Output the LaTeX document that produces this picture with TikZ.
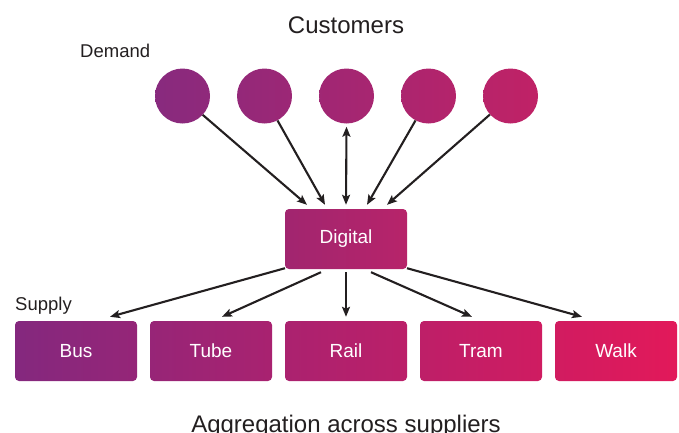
\documentclass[tikz,border=0pt]{standalone}
\usepackage{fontspec}
\setmainfont{Liberation Sans}
\usetikzlibrary{arrows.meta,calc}
\definecolor{txt}{HTML}{231F20}
\definecolor{bA}{HTML}{84287E}
\definecolor{bB}{HTML}{E2195A}
\definecolor{cA}{HTML}{882A7E}
\definecolor{cB}{HTML}{C02266}
\definecolor{dA}{HTML}{A1256F}
\definecolor{dB}{HTML}{B7246A}
\tikzset{
  box/.style={rectangle,rounded corners=4pt,minimum width=122pt,minimum height=60pt,inner sep=0pt,text=white,font=\fontsize{19}{19}\selectfont},
  dot/.style={circle,minimum size=55pt,inner sep=0pt},
  arr/.style={draw=txt,line width=2.1pt,-{Stealth[length=10pt,width=8pt,inset=2pt]}},
  darr/.style={draw=txt,line width=2.1pt,{Stealth[length=10pt,width=8pt,inset=2pt]}-{Stealth[length=10pt,width=8pt,inset=2pt]}},
  title/.style={text=txt,anchor=base,inner sep=0pt,font=\fontsize{24}{24}\selectfont},
  lab/.style={text=txt,anchor=base west,inner sep=0pt,font=\fontsize{18.5}{18.5}\selectfont}
}
\begin{document}
\begin{tikzpicture}[x=1pt,y=-1pt]
\useasboundingbox (0,0) rectangle (679,432);
% texts
\node[title] (cust) at (346,33) {Customers};
\node[title] (agg) at (346,432.5) {Aggregation across suppliers};
\node[lab] (dem) at (80,57) {Demand};
\node[lab] (sup) at (15,310) {Supply};
% circles
\node[dot,left color=cA,right color={cB!14!cA}] (c1) at (182.5,96) {};
\node[dot,left color={cB!21!cA},right color={cB!36!cA}] (c2) at (264.5,96) {};
\node[dot,left color={cB!43!cA},right color={cB!57!cA}] (c3) at (346.5,96) {};
\node[dot,left color={cB!64!cA},right color={cB!79!cA}] (c4) at (428.5,96) {};
\node[dot,left color={cB!86!cA},right color=cB] (c5) at (510.5,96) {};
% digital
\node[box,left color=dA,right color=dB] (dig) at (346,239) {Digital};
% supply boxes
\node[box,left color=bA,right color={bB!18!bA}] (bus) at (76,351) {Bus};
\node[box,left color={bB!20!bA},right color={bB!39!bA}] (tube) at (211,351) {Tube};
\node[box,left color={bB!41!bA},right color={bB!59!bA}] (rail) at (346,351) {Rail};
\node[box,left color={bB!61!bA},right color={bB!80!bA}] (tram) at (481,351) {Tram};
\node[box,left color={bB!82!bA},right color=bB] (walk) at (616,351) {Walk};
% demand arrows
\draw[arr] (c1.-43) -- ($(dig.north)+(-39,-4)$);
\draw[arr] (c2.-62) -- ($(dig.north)+(-21,-4)$);
\draw[darr] ($(c3.south)+(0,3)$) -- ($(dig.north)+(0,-4)$);
\draw[arr] (c4.-118) -- ($(dig.north)+(21,-4)$);
\draw[arr] (c5.-138) -- ($(dig.north)+(41,-4)$);
% supply arrows
\draw[arr] ($(dig.south)+(-61,-1)$) -- ($(bus.north)+(34,-4)$);
\draw[arr] ($(dig.south)+(-25,3)$) -- ($(tube.north)+(11,-4)$);
\draw[arr] ($(dig.south)+(0,3)$) -- ($(rail.north)+(0,-4)$);
\draw[arr] ($(dig.south)+(25,3)$) -- ($(tram.north)+(-9,-4)$);
\draw[arr] ($(dig.south)+(61,-1)$) -- ($(walk.north)+(-34,-4)$);
\end{tikzpicture}
\end{document}
